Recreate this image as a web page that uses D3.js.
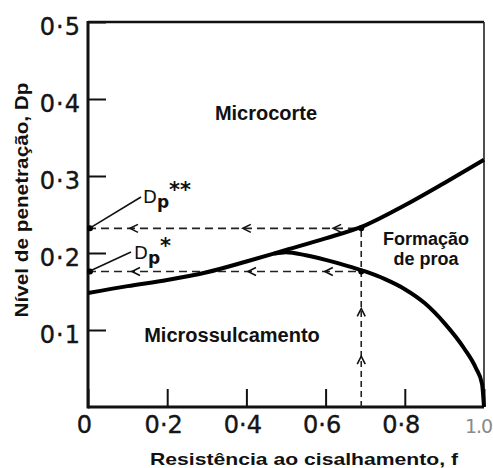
<!DOCTYPE html>
<html>
<head>
<meta charset="utf-8">
<script src="https://cdn.jsdelivr.net/npm/d3@7"></script>
<style>
  body { margin: 0; background: #fff; }
  .tick text { font-family: "DejaVu Sans", sans-serif; font-size: 24px; fill: #151515; stroke: #151515; stroke-width: 0.4px; }
  .title { font-family: "Liberation Sans", Arial, sans-serif; font-weight: bold; fill: #111; }
  .region { font-family: "Liberation Sans", Arial, sans-serif; font-weight: bold; fill: #111; }
  .dlab { font-family: "DejaVu Sans", sans-serif; fill: #111; }
</style>
</head>
<body>
<svg id="chart" width="493" height="468"></svg>
<script>
// resistance f vs penetration Dp, boundary curves
const upperF  = [0, 0.1, 0.2, 0.3, 0.4, 0.5, 0.6, 0.7, 0.8, 0.9, 1.0];
const upperDp = [0.148, 0.157, 0.165, 0.175, 0.189, 0.204, 0.219, 0.236, 0.262, 0.291, 0.321];
const lowerF  = [0.47, 0.5, 0.55, 0.6, 0.65, 0.7, 0.75, 0.8, 0.85, 0.9, 0.95, 0.98, 0.995, 1.0];
const lowerDp = [0.199, 0.201, 0.197, 0.191, 0.184, 0.176, 0.166, 0.153, 0.135, 0.109, 0.076, 0.05, 0.03, 0.0];

const xTicks = [0, 0.2, 0.4, 0.6, 0.8, 1.0];
const xTickLabels = ['0', '0·2', '0·4', '0·6', '0·8', '1.0'];
const yTicks = [0.1, 0.2, 0.3, 0.4, 0.5];
const yTickLabels = ['0·1', '0·2', '0·3', '0·4', '0·5'];

// operating point and the two read-off levels
const fOp = 0.69;
const dpStarStar = 0.232;
const dpStar = 0.176;
const arrowsUpperF = [0.106, 0.391, 0.619];
const arrowsLowerF = [0.111, 0.404, 0.598];
const arrowsVertDp = [0.128, 0.066];

const svg = d3.select('#chart');
const x = d3.scaleLinear().domain([0, 1]).range([88, 484]);
const y = d3.scaleLinear().domain([0, 0.5]).range([407, 22]);

// axes with inward ticks
const xAxis = svg.append('g')
  .attr('transform', `translate(0,${y(0)})`)
  .call(d3.axisBottom(x).tickValues(xTicks)
    .tickFormat((d, i) => xTickLabels[i])
    .tickSizeInner(-18).tickSizeOuter(0));
xAxis.select('.domain').remove();
xAxis.selectAll('.tick line').attr('stroke', '#111').attr('stroke-width', 2);
xAxis.selectAll('.tick text').attr('y', 26).attr('dy', 0).attr('x', -4);
xAxis.selectAll('.tick text').filter(d => d === 1)
  .attr('x', -6).style('fill', '#8a8a8a').style('stroke', 'none')
  .style('font-size', '19px').style('letter-spacing', '-1px');

const yAxis = svg.append('g')
  .attr('transform', `translate(${x(0)},0)`)
  .call(d3.axisLeft(y).tickValues(yTicks)
    .tickFormat((d, i) => yTickLabels[i])
    .tickSizeInner(-18).tickSizeOuter(0).tickPadding(7));
yAxis.select('.domain').remove();
yAxis.selectAll('.tick line').attr('stroke', '#111').attr('stroke-width', 2);
yAxis.selectAll('.tick text').attr('dy', '0.5em').style('letter-spacing', '1px');

// frame
svg.append('line').attr('x1', x(0)).attr('x2', x(1)).attr('y1', y(0.5)).attr('y2', y(0.5))
  .attr('stroke', '#111').attr('stroke-width', 2.5);
svg.append('line').attr('x1', x(1)).attr('x2', x(1)).attr('y1', y(0.5)).attr('y2', y(0))
  .attr('stroke', '#222').attr('stroke-width', 1.6);
svg.append('line').attr('x1', x(0)).attr('x2', x(0)).attr('y1', y(0.5) - 1).attr('y2', y(0) + 1.5)
  .attr('stroke', '#111').attr('stroke-width', 3);
svg.append('line').attr('x1', x(0)).attr('x2', x(1)).attr('y1', y(0)).attr('y2', y(0))
  .attr('stroke', '#111').attr('stroke-width', 3);

// dashed construction lines
const dash = '8,5';
[dpStarStar, dpStar].forEach(v => {
  svg.append('line').attr('x1', x(0)).attr('x2', x(fOp)).attr('y1', y(v)).attr('y2', y(v))
    .attr('stroke', '#222').attr('stroke-width', 1.6).attr('stroke-dasharray', dash);
});
svg.append('line').attr('x1', x(fOp)).attr('x2', x(fOp)).attr('y1', y(0)).attr('y2', y(dpStarStar))
  .attr('stroke', '#222').attr('stroke-width', 1.6).attr('stroke-dasharray', '6,4');

// chevron arrowheads
function chevronLeft(px, py) {
  svg.append('path').attr('d', `M${px + 8},${py - 4}L${px},${py}L${px + 8},${py + 4}`)
    .attr('fill', 'none').attr('stroke', '#111').attr('stroke-width', 1.6);
}
function chevronUp(px, py) {
  svg.append('path').attr('d', `M${px - 4},${py + 8}L${px},${py}L${px + 4},${py + 8}`)
    .attr('fill', 'none').attr('stroke', '#111').attr('stroke-width', 1.6);
}
arrowsUpperF.forEach(f => chevronLeft(x(f), y(dpStarStar)));
arrowsLowerF.forEach(f => chevronLeft(x(f), y(dpStar)));
arrowsVertDp.forEach(v => chevronUp(x(fOp), y(v)));

// boundary curves
const line = d3.line().x(d => x(d[0])).y(d => y(d[1])).curve(d3.curveMonotoneX);
svg.append('path').datum(d3.zip(upperF, upperDp)).attr('d', line)
  .attr('fill', 'none').attr('stroke', '#000').attr('stroke-width', 4);
svg.append('path').datum(d3.zip(lowerF, lowerDp)).attr('d', line)
  .attr('fill', 'none').attr('stroke', '#000').attr('stroke-width', 4);

// dots
[[0, dpStarStar], [0, dpStar], [fOp, dpStarStar], [fOp, dpStar]].forEach(p => {
  svg.append('circle').attr('cx', x(p[0]) + (p[0] === 0 ? 2 : 0)).attr('cy', y(p[1]))
    .attr('r', 3).attr('fill', '#000');
});

// Dp labels with leader lines
svg.append('line').attr('x1', 141).attr('y1', 197).attr('x2', x(0) + 3).attr('y2', y(dpStarStar) - 1)
  .attr('stroke', '#111').attr('stroke-width', 1.6);
svg.append('line').attr('x1', 131).attr('y1', 252).attr('x2', x(0) + 3).attr('y2', y(dpStar) - 1)
  .attr('stroke', '#111').attr('stroke-width', 1.6);

function dpLabel(px, py, stars) {
  const t = svg.append('text').attr('class', 'dlab').attr('x', px).attr('y', py).style('font-size', '18px');
  t.append('tspan').text('D');
  t.append('tspan').attr('dy', 5).style('font-size', '17px').style('font-weight', 'bold').text('p');
  t.append('tspan').attr('dy', -11).style('font-size', '21px').style('font-weight', 'bold').text(stars);
}
dpLabel(143, 203, '**');
dpLabel(134, 259, '*');

// region labels
svg.append('text').attr('class', 'region').attr('x', 266).attr('y', 120)
  .attr('text-anchor', 'middle').style('font-size', '20px').text('Microcorte');
svg.append('text').attr('class', 'region').attr('x', 232).attr('y', 342)
  .attr('text-anchor', 'middle').style('font-size', '20px').text('Microssulcamento');
svg.append('text').attr('class', 'region').attr('x', 426).attr('y', 245)
  .attr('text-anchor', 'middle').style('font-size', '18px').text('Formação');
svg.append('text').attr('class', 'region').attr('x', 426).attr('y', 265)
  .attr('text-anchor', 'middle').style('font-size', '18px').text('de proa');

// axis titles
svg.append('text').attr('class', 'title').attr('x', 304).attr('y', 465)
  .attr('text-anchor', 'middle').style('font-size', '17px')
  .attr('textLength', 308).attr('lengthAdjust', 'spacingAndGlyphs')
  .text('Resistência ao cisalhamento, f');
svg.append('text').attr('class', 'title')
  .attr('transform', 'translate(28,200) rotate(-90)')
  .attr('text-anchor', 'middle').style('font-size', '19px')
  .attr('textLength', 235).attr('lengthAdjust', 'spacingAndGlyphs')
  .text('Nível de penetração, Dp');
</script>
</body>
</html>
